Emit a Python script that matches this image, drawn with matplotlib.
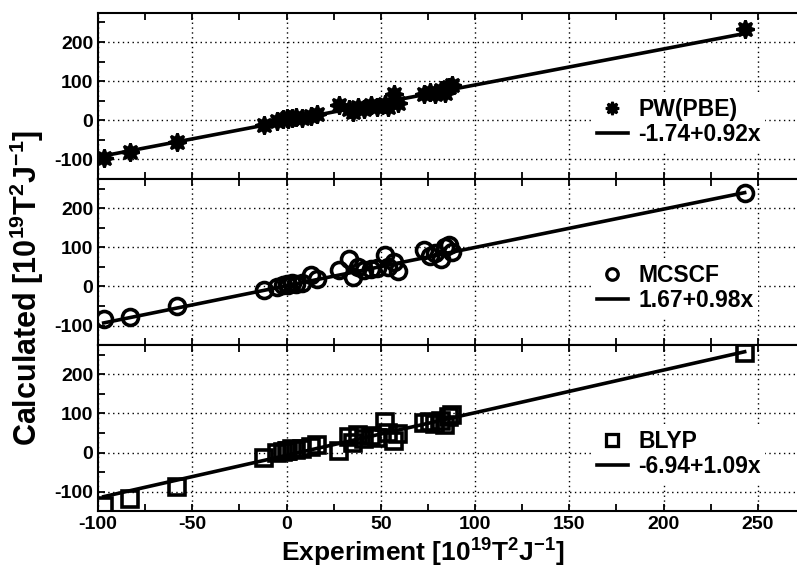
import matplotlib

matplotlib.use("Agg")
import matplotlib.pyplot as plt
import numpy as np
from matplotlib.lines import Line2D
from matplotlib.ticker import MultipleLocator

plt.rcParams["font.family"] = ["Liberation Sans", "DejaVu Sans"]
plt.rcParams["font.weight"] = "bold"
plt.rcParams["mathtext.fontset"] = "custom"
plt.rcParams["mathtext.bf"] = "Liberation Sans:bold"
plt.rcParams["mathtext.rm"] = "Liberation Sans:bold"
plt.rcParams["mathtext.default"] = "bf"
plt.rcParams["axes.unicode_minus"] = False

# experimental values (shared x for all three methods)
experiment = [-97, -83, -58, -12, -5, -2, 0, 1, 3, 5, 8, 13, 16, 28, 33, 35,
              38, 41, 45, 48, 52, 54, 57, 59, 73, 76, 79, 82, 84, 86, 88, 243]

pw_pbe = [-97, -80, -55, -13, -3, 2, 5, 3, 6, 8, 5, 10, 17, 38, 30, 20,
          35, 28, 38, 33, 42, 35, 68, 45, 68, 72, 66, 78, 70, 85, 90, 234]
mcscf = [-84, -77, -51, -8, -2, 3, 6, 4, 8, 5, 9, 28, 18, 43, 69, 25,
         50, 42, 45, 48, 81, 50, 62, 40, 94, 78, 85, 70, 100, 107, 89, 239]
blyp = [-137, -118, -87, -14, 0, 2, 5, 3, 8, 6, 10, 15, 20, 5, 40, 25,
        45, 35, 42, 38, 78, 50, 30, 48, 75, 78, 72, 80, 70, 90, 95, 254]

# fit coefficients (intercept, slope) as printed in the legends
fits = {"PW(PBE)": (-1.74, 0.92), "MCSCF": (1.67, 0.98), "BLYP": (-6.94, 1.09)}
fit_labels = ["-1.74+0.92x", "1.67+0.98x", "-6.94+1.09x"]

panels = [
    ("PW(PBE)", pw_pbe, dict(marker=(8, 1, 0), markersize=13, mfc="black",
                             mec="black", mew=2.0)),
    ("MCSCF", mcscf, dict(marker="o", markersize=11.5, mfc="none",
                          mec="black", mew=2.6)),
    ("BLYP", blyp, dict(marker="s", markersize=11.5, mfc="none",
                        mec="black", mew=2.6)),
]

fig = plt.figure(figsize=(7.97, 5.78), dpi=100)
left, width, height = 0.123, 0.887, 0.2875
bottoms = [0.6905, 0.403, 0.1155]

x = np.array(experiment, dtype=float)
xfit = np.array([x.min(), x.max()])

for i, (name, values, style) in enumerate(panels):
    ax = fig.add_axes([left, bottoms[i], width, height])
    a, b = fits[name]
    ax.plot(xfit, a + b * xfit, color="black", lw=2.6, zorder=2)
    ax.plot(x, values, ls="none", zorder=3, **style)

    ax.set_xlim(-100, 275)
    ax.set_ylim(-150, 275)
    ax.xaxis.set_major_locator(MultipleLocator(50))
    ax.xaxis.set_minor_locator(MultipleLocator(25))
    ax.yaxis.set_major_locator(MultipleLocator(100))
    ax.yaxis.set_minor_locator(MultipleLocator(50))
    ax.grid(True, which="major", color="black", ls=(0, (1, 2.5)), lw=1.0)
    ax.tick_params(which="both", direction="in", top=True, right=False,
                   length=5, width=1.3, labelsize=14)
    ax.spines["right"].set_visible(False)
    for s in ("left", "top", "bottom"):
        ax.spines[s].set_linewidth(1.5)
    if i < 2:
        ax.tick_params(labelbottom=False)
    for lab in ax.get_xticklabels() + ax.get_yticklabels():
        lab.set_fontweight("bold")

    leg_style = dict(style)
    leg_style["markersize"] = style["markersize"] * 0.72
    leg_style["mew"] = style["mew"] * 0.9
    handles = [
        Line2D([], [], ls="none", **leg_style),
        Line2D([], [], color="black", lw=2.6),
    ]
    leg = ax.legend(handles, [name, fit_labels[i]], loc="upper left",
                    bbox_to_anchor=(0.683, 0.585), frameon=True,
                    facecolor="white", edgecolor="none", framealpha=1,
                    fancybox=False, handlelength=1.35, handletextpad=0.45,
                    labelspacing=0.1, borderpad=0.2,
                    prop=dict(size=16.5, weight="bold"))
    leg.set_zorder(5)

fig.text(0.034, 0.502, "Calculated [10$^{19}$T$^{2}$J$^{-1}$]", rotation=90,
         ha="center", va="center", fontsize=22, fontweight="bold")
fig.text(0.531, 0.043, "Experiment [10$^{19}$T$^{2}$J$^{-1}$]",
         ha="center", va="center", fontsize=19, fontweight="bold")

fig.savefig("out.png", dpi=100)
